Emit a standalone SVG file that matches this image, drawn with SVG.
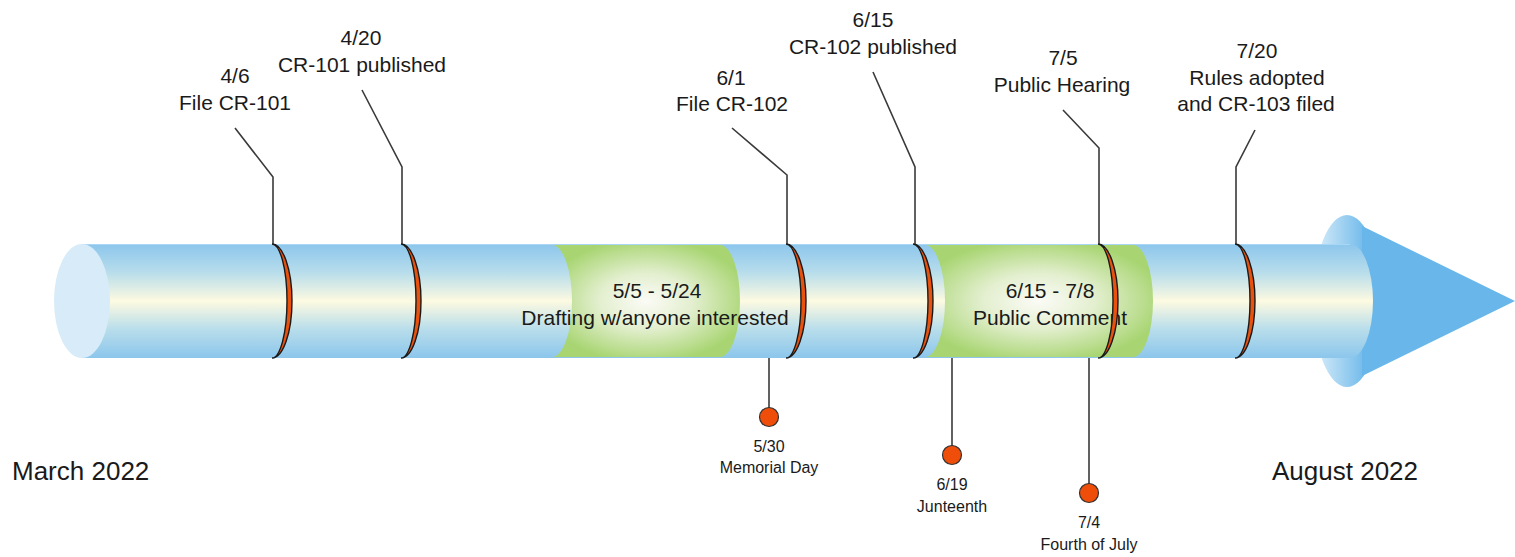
<svg xmlns="http://www.w3.org/2000/svg" width="1515" height="557" viewBox="0 0 1515 557">
<defs>
<linearGradient id="tube" x1="0" y1="0" x2="0" y2="1">
<stop offset="0" stop-color="#8CC6EC"/>
<stop offset="0.25" stop-color="#B8DDEB"/>
<stop offset="0.5" stop-color="#FDFAE1"/>
<stop offset="0.75" stop-color="#B8DDEB"/>
<stop offset="1" stop-color="#8CC6EC"/>
</linearGradient>
<linearGradient id="base" x1="0" y1="0" x2="1" y2="0">
<stop offset="0" stop-color="#DDEFFA"/>
<stop offset="0.8" stop-color="#6CB8EA"/>
<stop offset="1" stop-color="#6CB8EA"/>
</linearGradient>
<radialGradient id="green" cx="0.5" cy="0.5" r="0.55">
<stop offset="0" stop-color="#FBFBF6"/>
<stop offset="0.45" stop-color="#E3EFCF"/>
<stop offset="1" stop-color="#A8D572"/>
</radialGradient>
<style>
.lbl{font-family:"Liberation Sans",Arial,sans-serif;font-size:21px;fill:#1a1a1a;text-anchor:middle}
.sm{font-family:"Liberation Sans",Arial,sans-serif;font-size:16px;fill:#1a1a1a;text-anchor:middle}
.big{font-family:"Liberation Sans",Arial,sans-serif;font-size:26px;fill:#1a1a1a}
.lead{fill:none;stroke:#3a3a3a;stroke-width:1.6}
.ring{fill:#E9520D;stroke:#1a1a1a;stroke-width:1.4}
.dot{fill:#EE4E0A;stroke:#333;stroke-width:1.2}
</style>
</defs>

<g id="arrow">
<ellipse cx="1347" cy="301" rx="34" ry="86" fill="url(#base)"/>
<polygon points="1362,226 1515,301 1362,376" fill="#69B7EA"/>
</g>

<g id="tube-body">
<path d="M82,244 L1350,244 A23 57 0 0 1 1350,358 L82,358 Z" fill="url(#tube)"/>
<line x1="82" y1="244.5" x2="1350" y2="244.5" stroke="#A8D6F4" stroke-width="1"/>
<ellipse cx="82" cy="301" rx="28" ry="57" fill="#D7EBF8"/>
</g>

<g id="period-drafting">
<path d="M552,245 A20 56 0 0 1 552,357 L720,357 A20 56 0 0 0 720,245 Z" fill="url(#green)"/>
<text class="lbl" x="657" y="298">5/5 - 5/24</text>
<text class="lbl" x="655" y="325">Drafting w/anyone interested</text>
</g>

<g id="period-comment">
<path d="M925,245 A20 56 0 0 1 925,357 L1133,357 A20 56 0 0 0 1133,245 Z" fill="url(#green)"/>
<text class="lbl" x="1050" y="298">6/15 - 7/8</text>
<text class="lbl" x="1050" y="325">Public Comment</text>
</g>

<g id="connectors">
<polyline class="lead" points="235,128 273,177 273,244"/>
<polyline class="lead" points="362,90 402,167 402,244"/>
<polyline class="lead" points="732,128 787,175 787,244"/>
<polyline class="lead" points="873,72 915,167 915,244"/>
<polyline class="lead" points="1063,110 1099,148 1099,244"/>
<polyline class="lead" points="1255,130 1236,167 1236,244"/>
<line class="lead" x1="769" y1="358" x2="769" y2="408" stroke-width="2"/>
<line class="lead" x1="952" y1="358" x2="952" y2="446" stroke-width="2"/>
<line class="lead" x1="1089" y1="358" x2="1089" y2="484" stroke-width="2"/>
</g>

<g id="rings">
<path class="ring" d="M272,244 A20 57 0 0 1 272,358 A15 57 0 0 0 272,244 Z"/>
<path class="ring" d="M401,244 A20 57 0 0 1 401,358 A15 57 0 0 0 401,244 Z"/>
<path class="ring" d="M786,244 A20 57 0 0 1 786,358 A15 57 0 0 0 786,244 Z"/>
<path class="ring" d="M913,244 A20 57 0 0 1 913,358 A15 57 0 0 0 913,244 Z"/>
<path class="ring" d="M1098,244 A20 57 0 0 1 1098,358 A15 57 0 0 0 1098,244 Z"/>
<path class="ring" d="M1235,244 A20 57 0 0 1 1235,358 A15 57 0 0 0 1235,244 Z"/>
</g>

<g id="m-4-6"><text class="lbl" x="235" y="83">4/6</text><text class="lbl" x="235" y="110">File CR-101</text></g>
<g id="m-4-20"><text class="lbl" x="361" y="45">4/20</text><text class="lbl" x="362" y="72">CR-101 published</text></g>
<g id="m-6-1"><text class="lbl" x="731" y="85">6/1</text><text class="lbl" x="732" y="111">File CR-102</text></g>
<g id="m-6-15"><text class="lbl" x="873" y="27">6/15</text><text class="lbl" x="873" y="54">CR-102 published</text></g>
<g id="m-7-5"><text class="lbl" x="1063" y="65">7/5</text><text class="lbl" x="1062" y="92">Public Hearing</text></g>
<g id="m-7-20"><text class="lbl" x="1257" y="58">7/20</text><text class="lbl" x="1257" y="85">Rules adopted</text><text class="lbl" x="1256" y="111">and CR-103 filed</text></g>

<g id="h-memorial"><circle class="dot" cx="769" cy="417" r="9.5"/><text class="sm" x="769" y="452">5/30</text><text class="sm" x="769" y="473">Memorial Day</text></g>
<g id="h-juneteenth"><circle class="dot" cx="952" cy="455" r="9.5"/><text class="sm" x="952" y="490">6/19</text><text class="sm" x="952" y="512">Junteenth</text></g>
<g id="h-july4"><circle class="dot" cx="1089" cy="493" r="9.5"/><text class="sm" x="1089" y="528">7/4</text><text class="sm" x="1089" y="550">Fourth of July</text></g>

<g id="start-label"><text class="big" x="12" y="480">March 2022</text></g>
<g id="end-label"><text class="big" x="1272" y="480">August 2022</text></g>
</svg>
